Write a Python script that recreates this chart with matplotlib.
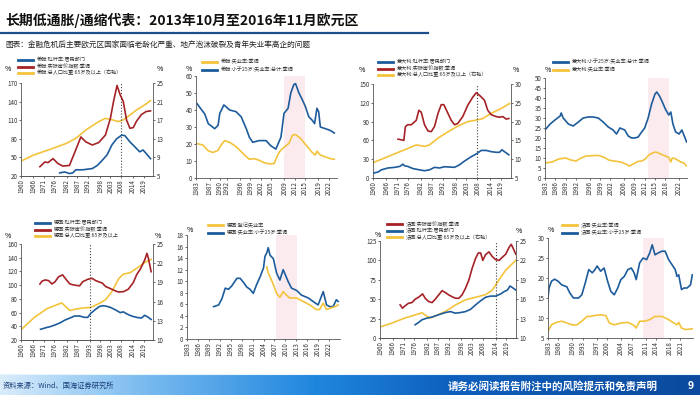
import numpy as np
import matplotlib
matplotlib.use("Agg")
import matplotlib.pyplot as plt
from matplotlib.lines import Line2D

plt.rcParams['font.family'] = ['Noto Sans CJK SC', 'DejaVu Sans']
plt.rcParams['axes.unicode_minus'] = False

W, H = 700, 395
BLUE = '#1d5c9c'
RED = '#a52327'
YEL = '#f3c33c'
SHADE = '#fcebee'

title = '长期低通胀/通缩代表：2013年10月至2016年11月欧元区'
subtitle = '图表：金融危机后主要欧元区国家面临老龄化严重、地产泡沫破裂及青年失业率高企的问题'
source = '资料来源：Wind、国海证券研究所'
disclaimer = '请务必阅读报告附注中的风险提示和免责声明'
page_no = '9'

# x tick labels
long_ticks = [1960, 1966, 1971, 1976, 1982, 1987, 1992, 1998, 2003, 2008, 2014, 2019]
de_long_ticks = [1960, 1966, 1971, 1976, 1982, 1987, 1993, 1998, 2003, 2008, 2014, 2019]
gr_u_ticks = [1983, 1987, 1990, 1992, 1996, 1999, 2002, 2005, 2009, 2012, 2015, 2019, 2022]
it_u_ticks = [1983, 1986, 1989, 1992, 1996, 1999, 2002, 2006, 2009, 2012, 2015, 2018, 2022]
de_u_ticks = [1983, 1986, 1989, 1992, 1995, 1998, 2001, 2004, 2007, 2010, 2013, 2016, 2019, 2022]
fr_u_ticks = [1983, 1986, 1990, 1993, 1997, 2000, 2004, 2007, 2011, 2014, 2018, 2021]

# ---- Greece ----
gr_lev_x = [1978.6, 1981, 1983.3, 1984.9, 1986.4, 1989.6, 1994.3, 1996.7, 1999, 2001.4, 2003.7, 2006, 2008.5, 2010, 2012.4, 2014.8, 2017.1, 2018.7, 2020.3, 2022.3]
gr_lev_y = [25, 26.5, 24, 25, 30, 30, 32, 37, 45, 54, 70, 80, 86, 85, 75, 67, 59, 62, 56, 48]
gr_hp_x = [1969.1, 1971.5, 1973, 1975.4, 1977.8, 1980.1, 1983.3, 1985.6, 1988.8, 1991.2, 1994.3, 1997.4, 2000.6, 2003, 2004.5, 2006.2, 2007.7, 2009.2, 2010.8, 2012.4, 2014, 2015.5, 2017.9, 2020.2, 2022.3]
gr_hp_y = [35, 42.7, 41.6, 48, 40, 36, 37, 56, 83, 75, 70, 74, 86, 113, 140, 166, 151, 140, 110, 97, 98, 108, 119, 124, 125]
gr_old_x = [1960, 1966, 1973.8, 1981.7, 1986.4, 1991.2, 1997.4, 2000.6, 2003.7, 2006.9, 2009.3, 2012.4, 2015.6, 2019.5, 2022.3]
gr_old_y = [8.2, 9.5, 10.7, 12, 13.1, 14.9, 16.7, 17.4, 17.1, 16.7, 17.1, 18.1, 19.2, 20.3, 21.2]

gr_yu_x = [1983.2, 1984.7, 1985.6, 1986.6, 1988.5, 1989.5, 1990.0, 1991.2, 1992.9, 1994.8, 1996.3, 1997.8, 1998.7, 1999.7, 2001.6, 2003.6, 2005.0, 2006.5, 2008.0, 2008.9, 2010.1, 2010.9, 2011.8, 2012.3, 2013.3, 2014.3, 2015.2, 2016.2, 2017.2, 2017.9, 2018.6, 2019.1, 2019.6, 2021.1, 2022.5, 2023.7]
gr_yu_y = [44, 40, 37.6, 32, 29, 31, 38, 43, 40, 39, 36, 29, 24, 21, 22, 22, 19, 17, 24, 38, 41, 50, 55, 55.5, 50, 46, 42, 36, 34, 32, 41, 39, 30, 29, 28, 26.5]
gr_u_x = [1983.2, 1985.1, 1986.6, 1988.0, 1989.5, 1990.4, 1991.4, 1992.9, 1994.8, 1996.3, 1997.3, 1998.7, 2000.2, 2001.6, 2003.1, 2004.5, 2006.0, 2007.0, 2008.0, 2008.9, 2010.4, 2011.4, 2012.3, 2013.8, 2015.2, 2016.2, 2017.2, 2018.1, 2018.6, 2019.6, 2021.1, 2022.5, 2023.7]
gr_u_y = [20.3, 19.3, 16, 15, 16.3, 19.4, 22, 21, 18.5, 15.5, 13.5, 11, 11.4, 10.4, 9, 8.3, 8.5, 13.4, 16.5, 18, 20.5, 25.2, 25.6, 23.2, 19.8, 17.5, 15, 13.5, 15.8, 13.5, 12.4, 11.4, 11]
gr_shade = (2008.9, 2015.2)

# ---- Italy ----
it_lev_x = [1960.5, 1962.3, 1963.8, 1966.9, 1970, 1972.3, 1973.8, 1974.5, 1976, 1978.4, 1981.4, 1983.7, 1986, 1988.3, 1990.6, 1992.9, 1995.2, 1997.5, 1999.8, 2002.1, 2005.2, 2007.8, 2009.8, 2012.1, 2014.4, 2016.7, 2018.2, 2019.3, 2020.5, 2022.5]
it_lev_y = [8, 9.5, 13, 16, 17, 18.5, 22, 19.5, 18.5, 15, 13, 11.6, 13, 17, 16, 18, 17.5, 17, 21, 27, 34, 39, 44, 44, 42, 41, 41, 45, 42, 37]
it_hp_x = [1971.5, 1973, 1974.2, 1974.9, 1976, 1977.6, 1979.9, 1981.1, 1982.2, 1983.7, 1985.3, 1986.8, 1988.3, 1989.9, 1991.4, 1992.6, 1994.5, 1996, 1997.5, 1999, 2001.3, 2003.6, 2005.9, 2007.5, 2009, 2011.3, 2012.8, 2014.4, 2016.7, 2018.2, 2019.7, 2021.3, 2022.5]
it_hp_y = [62, 61, 60, 82, 85, 85, 92, 108, 105, 85, 75, 74, 82, 103, 117, 117, 103, 92, 85, 87, 98, 116, 129, 136, 132, 124, 108, 101, 98, 97, 98, 94, 95]
it_old_x = [1960.5, 1966.9, 1974.5, 1979.9, 1983.7, 1986, 1989.9, 1994.5, 1999, 2003.6, 2007.5, 2010.5, 2014.4, 2019, 2022.8]
it_old_y = [9.2, 10.7, 12.5, 13.8, 13.4, 13.8, 15.6, 17.3, 18.8, 20, 20.4, 20.8, 22.2, 23.5, 24.8]

it_yu_x = [1983, 1984.5, 1985.9, 1987.4, 1987.7, 1988.3, 1989.8, 1991.2, 1992.7, 1994.1, 1995.6, 1997, 1998.5, 1999.9, 2001.4, 2002.8, 2003.8, 2004.8, 2006.2, 2007.2, 2008.2, 2009.1, 2010.1, 2011.1, 2012, 2013, 2014, 2015, 2015.5, 2016.3, 2017, 2018, 2019, 2019.6, 2020.2, 2021, 2022, 2022.8, 2023.5, 2024.2]
it_yu_y = [24, 27, 29, 31, 32.5, 30, 27, 26, 28, 30, 30.5, 30.5, 30, 28, 25.5, 24, 22, 25, 24, 21, 20, 20, 20.5, 23, 25, 30, 37, 42, 43, 41, 38.5, 34.5, 31.5, 33, 27, 23, 22, 24, 21, 18]
it_u_x = [1983, 1985, 1987, 1989, 1990.5, 1992, 1993.5, 1995, 1997, 1998.5, 2000, 2001.5, 2003, 2005, 2006.5, 2007.5, 2008.7, 2010, 2011, 2012.2, 2013.2, 2014.3, 2015.2, 2016, 2017, 2018, 2019, 2019.6, 2020, 2020.7, 2021.5, 2022.5, 2023.4, 2024.2]
it_u_y = [7.5, 8, 9.5, 10, 9, 8.5, 10, 11, 11.2, 11.3, 10.5, 9, 8.5, 8, 7, 6, 7, 8.3, 8.4, 9.5, 11.5, 12.5, 13, 12.5, 11.7, 11, 10.3, 8, 10, 9.8, 9, 8, 7.5, 6]
it_shade = (2013.0, 2019.0)

# ---- Germany ----
de_lev_x = [1969.4, 1971, 1972.5, 1974.1, 1976.4, 1978.8, 1981.1, 1983.5, 1985.8, 1988.2, 1990.5, 1992.1, 1993.6, 1996, 1997.6, 1999.1, 2000.7, 2003, 2005.4, 2007.7, 2009.3, 2010.9, 2013.2, 2015.6, 2017.9, 2019.5, 2021, 2022.6]
de_lev_y = [35.6, 37, 38.4, 39.5, 42, 45, 49, 52, 55, 55, 53, 53, 59, 65, 68.6, 70, 69.5, 67.6, 64, 60, 61, 58, 55, 53, 52, 56, 53.5, 50]
de_hp_x = [1969.1, 1970.2, 1971.7, 1973.3, 1974.9, 1976.4, 1978, 1980, 1981.9, 1983.5, 1985.8, 1988.2, 1989.7, 1992.1, 1994.1, 1996, 1999.1, 2000.7, 2003, 2005.4, 2006.9, 2009.3, 2011.6, 2014, 2015.6, 2017.6, 2019.5, 2020.6, 2021.3, 2022.6]
de_hp_y = [101.7, 106, 107.6, 106.5, 101.7, 105, 112, 115, 107.5, 101.7, 100, 99, 105, 108.5, 110, 106.5, 103, 98, 95, 91.6, 90, 90.5, 94, 103.6, 115, 124.5, 136.7, 146.4, 139, 119.6]
de_old_x = [1960, 1966.3, 1972.5, 1979.6, 1983.5, 1985.8, 1989.7, 1993.6, 1997.6, 2000.7, 2003.8, 2007, 2009.3, 2012.4, 2015.6, 2019.5, 2022.6]
de_old_y = [11.6, 13.5, 14.9, 15.8, 14.6, 14.8, 15, 15.1, 15.7, 16.3, 17.6, 19.6, 20.3, 20.5, 21.2, 22.1, 22.6]

de_yu_x = [1990.3, 1991.7, 1992.6, 1993.5, 1994.4, 1995.3, 1996.7, 1997.6, 1998.5, 1999.4, 2000.3, 2001.2, 2002.1, 2003.1, 2004, 2004.4, 2004.9, 2005.3, 2005.8, 2006.7, 2007.6, 2008.5, 2009.4, 2009.8, 2010.8, 2011.7, 2013.1, 2014.4, 2016.3, 2017.6, 2019, 2019.9, 2020.4, 2021.3, 2022.2, 2023.1, 2024, 2024.5]
de_yu_y = [5.6, 5.9, 7, 8.8, 8.6, 9.2, 10.5, 10.5, 9.8, 9, 8.6, 7.9, 9.4, 10.8, 12.3, 14.3, 14.9, 15.8, 14.5, 13.9, 11.4, 10.2, 12, 11.4, 9.9, 8.8, 8.4, 7.6, 7.1, 6.5, 5.9, 7.4, 8.2, 5.9, 5.6, 5.6, 6.8, 6.5]
de_u_x = [2004.9, 2005.3, 2005.8, 2006.7, 2007.6, 2008.5, 2009.4, 2010.3, 2011.2, 2013.1, 2014.9, 2016.7, 2018.5, 2019.4, 2020.4, 2021.3, 2022.2, 2023.6, 2024.5]
de_u_y = [12.5, 11.4, 10.8, 9.4, 7.9, 7.2, 8.2, 7.6, 7.1, 7.1, 6.5, 5.9, 5.1, 5.1, 6.2, 5.1, 5.3, 5.6, 5.9]
de_shade = (2007.4, 2013.1)

# ---- France ----
fr_hp_x = [1969.4, 1970.5, 1971.7, 1973.3, 1974.9, 1976.4, 1978, 1979.9, 1981.1, 1982.7, 1984.3, 1985.8, 1987.4, 1989, 1990.5, 1992.1, 1993.6, 1995.2, 1996.8, 1998.3, 1999.9, 2001.5, 2003, 2004.6, 2005.9, 2007, 2008, 2009.3, 2010.9, 2012.4, 2014, 2015.6, 2017.1, 2018.7, 2020.3, 2021.3, 2022.6, 2023.4]
fr_hp_y = [42.7, 38.4, 41.4, 44.8, 45.6, 50, 52.5, 56.8, 51.2, 47, 45.6, 50, 55.5, 61, 58.6, 55.5, 53.3, 51.2, 51.2, 55.5, 64, 74.7, 89.6, 102.4, 109.6, 109.6, 100, 107.5, 111, 105, 101, 100, 104, 108, 117, 120.7, 113, 108]
fr_lev_x = [1976.4, 1978, 1979.6, 1981.9, 1984.3, 1987.4, 1990.5, 1992.9, 1995.2, 1997.6, 1999.9, 2002.3, 2004.6, 2007, 2009.3, 2011.6, 2014, 2016.3, 2017.9, 2019.5, 2020.7, 2021.8, 2023.4]
fr_lev_y = [17, 20, 23.5, 25.6, 27, 30, 32.8, 34, 32, 32.8, 34, 37, 42.6, 48, 52.5, 54, 54, 56.7, 59.7, 61.8, 67, 65, 61.8]
fr_old_x = [1960, 1965.5, 1971.7, 1979.6, 1981.7, 1983.5, 1985.8, 1990.5, 1995.2, 1999.9, 2004.6, 2009.3, 2012.4, 2015.6, 2018.7, 2021.8, 2023.4]
fr_old_y = [11.7, 12.3, 13.1, 13.9, 13.4, 13.1, 13.4, 14.1, 15.1, 15.9, 16.3, 16.7, 17.4, 19, 20.5, 21.5, 22]

fr_yu_x = [1983, 1983.3, 1984, 1984.9, 1985.9, 1986.9, 1988.4, 1989.3, 1990.3, 1991.8, 1992.7, 1993.7, 1994.7, 1995.7, 1996.4, 1997.1, 1998.1, 1999.1, 2000.1, 2001, 2002, 2003, 2003.9, 2004.9, 2005.9, 2006.9, 2007.7, 2008.3, 2009.3, 2010.3, 2011.3, 2012.2, 2012.9, 2013.7, 2014.7, 2015.7, 2016.6, 2017.6, 2018.6, 2019.5, 2020, 2020.5, 2021.3, 2022, 2022.9, 2023.9, 2024.4]
fr_yu_y = [15, 17.5, 19.2, 19.7, 19.2, 18.3, 17.8, 16.2, 15, 15, 15.8, 18.8, 22.1, 21.3, 22, 23, 21.7, 22.5, 19.2, 16.7, 15.8, 17.5, 19.6, 20.4, 22.1, 22.5, 21.3, 19.6, 23.8, 25, 24.6, 26.3, 28.3, 25.8, 26.3, 26.7, 26.7, 24.6, 23.3, 22.1, 20.4, 20.8, 17.1, 17.5, 17.5, 18.3, 20.8]
fr_u_x = [1983, 1984, 1985.4, 1986.9, 1988.4, 1989.8, 1991.3, 1992.7, 1994.2, 1995.2, 1996.2, 1998.1, 1999.6, 2000.6, 2002, 2003.9, 2005.9, 2007.4, 2008.3, 2009.3, 2010.8, 2012.2, 2013.7, 2015.7, 2017.6, 2019.1, 2020, 2020.5, 2021.3, 2022.5, 2023.9, 2024.4]
fr_u_y = [6.7, 8.3, 8.9, 9.2, 8.75, 8.3, 8.3, 9.2, 10.4, 10.4, 10.6, 10.8, 10.6, 8.75, 8.3, 8.75, 8.9, 8.3, 7.5, 9.2, 9.2, 9.6, 10.4, 10.4, 9.6, 8.75, 8.3, 8.9, 7.5, 7.1, 7.25, 7.3]
fr_shade = (2010.3, 2016.4)


def box(l, t, r, b):
    return [l / W, 1 - b / H, (r - l) / W, (b - t) / H]


def style(ax, ticks, twin=False):
    for s in ['top', 'right']:
        ax.spines[s].set_visible(False)
    if twin:
        ax.spines['right'].set_visible(True)
    for s in ax.spines.values():
        s.set_color('#555555')
        s.set_linewidth(0.6)
    ax.set_xticks(ticks)
    ax.set_xticklabels([str(t) for t in ticks], rotation=90)
    ax.tick_params(labelsize=4.5, length=1.5, width=0.5, pad=1, colors='#333333')


def txt(x, y, s, size=4.8, **kw):
    fig.text(x / W, 1 - y / H, s, fontsize=size, **kw)


def legend(entries, x, y, step=6.5):
    # hand-drawn legend: thick line handle + label, one row per entry
    for i, (col, lab) in enumerate(entries):
        yy = y + i * step
        fig.add_artist(Line2D([x / W, (x + 15) / W], [1 - yy / H] * 2, color=col, lw=2.0))
        txt(x + 19, yy, lab, size=3.7, va='center', color='#333333')


fig = plt.figure(figsize=(7, 3.95), dpi=100)

# header
txt(5, 20, title, size=10, va='center', fontweight='bold', color='#111111')
fig.add_artist(Line2D([0, 428 / W], [1 - 33 / H] * 2, color='#1f4e8c', lw=1.6))
txt(5, 45, subtitle, size=5.5, va='center', color='#222222')

COLS = {'b': BLUE, 'r': RED, 'y': YEL}


def long_chart(pos, ticks, lev, hp, old, ylim, yt, ylim2, yt2, vline, labels, order, legpos, pct):
    ax = fig.add_axes(box(*pos))
    ax2 = ax.twinx()
    ax.plot(lev[0], lev[1], color=BLUE, lw=1.2, zorder=3)
    ax.plot(hp[0], hp[1], color=RED, lw=1.2, zorder=3)
    ax2.plot(old[0], old[1], color=YEL, lw=1.2)
    ax.set_zorder(ax2.get_zorder() + 1)
    ax.patch.set_visible(False)
    ax.set_xlim(1960, 2023.5)
    ax.set_ylim(*ylim)
    ax.set_yticks(yt)
    ax2.set_ylim(*ylim2)
    ax2.set_yticks(yt2)
    ax.axvline(vline, color='#444444', ls=':', lw=0.8)
    style(ax, ticks)
    style(ax2, ticks, twin=True)
    ax2.spines['left'].set_visible(False)
    legend([(COLS[k], lab) for k, lab in zip(order, labels)], *legpos)
    txt(pct[0], pct[1], '%', size=5, ha='center', va='center')
    txt(pct[2], pct[3], '%', size=5, ha='center', va='center')


def unemp_chart(pos, ticks, xlim, yu, u, ylim, yt, shade, labels, order, legpos, pct):
    ax = fig.add_axes(box(*pos))
    ax.axvspan(shade[0], shade[1], color=SHADE, lw=0, zorder=0)
    ax.plot(yu[0], yu[1], color=BLUE, lw=1.2)
    ax.plot(u[0], u[1], color=YEL, lw=1.2)
    ax.set_xlim(*xlim)
    ax.set_ylim(*ylim)
    ax.set_yticks(yt)
    style(ax, ticks)
    legend([(COLS[k], lab) for k, lab in zip(order, labels)], *legpos, step=7.5)
    txt(pct[0], pct[1], '%', size=5, ha='center', va='center')


# Greece
long_chart((21, 83, 153, 176), long_ticks, (gr_lev_x, gr_lev_y), (gr_hp_x, gr_hp_y), (gr_old_x, gr_old_y),
           (20, 170), [20, 50, 80, 110, 140, 170], (5, 25), [5, 9, 13, 17, 21, 25], 2008,
           ['希腊:杠杆率:居民部门', '希腊:实际房价指数:季调', '希腊:总人口比重:65岁及以上（右轴）'],
           'bry', (18, 60), (8, 69, 160, 69))
unemp_chart((196, 76, 337, 178), gr_u_ticks, (1983, 2024.5), (gr_yu_x, gr_yu_y), (gr_u_x, gr_u_y),
            (0, 60), range(0, 61, 10), gr_shade,
            ['希腊:失业率:季调', '希腊:小于25岁:失业率:总计:季调'], 'yb', (202, 62), (189, 69))

# Italy
long_chart((373, 84, 511, 178), long_ticks, (it_lev_x, it_lev_y), (it_hp_x, it_hp_y), (it_old_x, it_old_y),
           (0, 150), [0, 30, 60, 90, 120, 150], (5, 30), [5, 10, 15, 20, 25, 30], 2008,
           ['意大利:杠杆率:居民部门', '意大利:实际房价指数:季调', '意大利:总人口比重:65岁及以上（右轴）'],
           'bry', (378, 62), (362, 70, 516, 70))
unemp_chart((545, 78, 687, 178), it_u_ticks, (1983, 2024.3), (it_yu_x, it_yu_y), (it_u_x, it_u_y),
            (0, 50), range(0, 51, 5), it_shade,
            ['意大利:小于25岁:失业率:总计:季调', '意大利:失业率:季调'], 'by', (553, 62), (548, 70))

# Germany
long_chart((21, 244, 153, 340), de_long_ticks, (de_lev_x, de_lev_y), (de_hp_x, de_hp_y), (de_old_x, de_old_y),
           (20, 160), range(20, 161, 20), (10, 25), [10, 13, 16, 19, 22, 25], 1993.2,
           ['德国:杠杆率:居民部门', '德国:实际房价指数:季调', '德国:总人口比重:65岁及以上'],
           'bry', (35, 223), (8, 236, 158, 236))
unemp_chart((187, 235, 340, 339), de_u_ticks, (1983, 2025), (de_yu_x, de_yu_y), (de_u_x, de_u_y),
            (0, 18), range(0, 19, 2), de_shade,
            ['德国:登记失业率', '德国:失业率:小于25岁:季调'], 'yb', (208, 225), (190, 230))

# France
long_chart((380, 241, 516, 338), long_ticks, (fr_lev_x, fr_lev_y), (fr_hp_x, fr_hp_y), (fr_old_x, fr_old_y),
           (0, 125), [0, 25, 50, 75, 100, 125], (10, 25), [10, 13, 16, 19, 22, 25], 2014,
           ['法国:实际房价指数:季调', '法国:杠杆率:居民部门', '法国:总人口比重:65岁及以上（右轴）'],
           'rby', (387, 224), (378, 235, 519, 231))
unemp_chart((548, 238, 693, 338), fr_u_ticks, (1983, 2024.6), (fr_yu_x, fr_yu_y), (fr_u_x, fr_u_y),
            (5, 30), range(5, 31, 5), fr_shade,
            ['法国:失业率:季调', '法国:失业率:小于25岁:季调'], 'yb', (562, 225), (551, 230))

# footer band with gradient
fax = fig.add_axes([0, 0, 1, 21 / H])
grad = np.linspace(0, 1, 256).reshape(1, -1)
cmap = matplotlib.colors.LinearSegmentedColormap.from_list(
    'ft', [(0, '#d8ecfb'), (0.2, '#7cbcf0'), (0.45, '#1f86de'), (0.65, '#0e5fbd'), (1, '#0b4a9c')])
fax.imshow(grad, aspect='auto', cmap=cmap, extent=[0, 1, 0, 1])
fax.set_axis_off()
fig.add_artist(Line2D([0, 1], [21 / H] * 2, color='#e6f4fd', lw=0.8))
txt(3, 386, source, size=5.2, va='center', color='#1a3f7a')
txt(448, 386, disclaimer, size=7.6, va='center', color='white', fontweight='bold')
txt(691, 386, page_no, size=7.6, va='center', ha='center', color='white', fontweight='bold')

fig.savefig('out.png', dpi=100)
